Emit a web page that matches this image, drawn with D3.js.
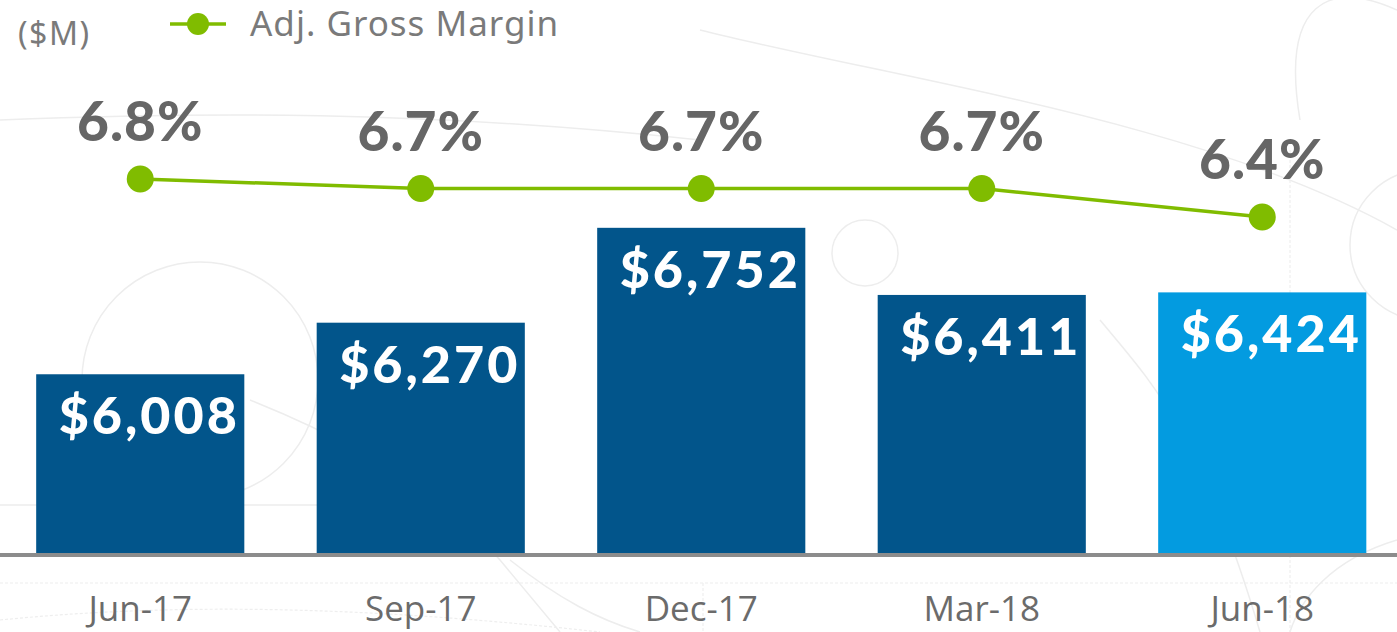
<!DOCTYPE html>
<html>
<head>
<meta charset="utf-8">
<script src="https://cdn.jsdelivr.net/npm/d3@7"></script>
<style>
  body { margin: 0; background: #fff; }
  svg { display: block; }
  .deco { fill: none; stroke: #ededed; stroke-width: 1.5; }
  .deco-dash { fill: none; stroke: #eeeeee; stroke-width: 1.2; stroke-dasharray: 3 2; }
  .x-label { font-family: "Open Sans", sans-serif; font-size: 35px; fill: #6b6b6b; }
  .pct { font-family: Lato, sans-serif; font-weight: 900; font-size: 55px; fill: #666; letter-spacing: 1px; }
  .val { font-family: Lato, sans-serif; font-weight: 900; font-size: 52px; fill: #fff; letter-spacing: 3px; }
  .legend { font-family: "Noto Sans", sans-serif; fill: #7a7a7a; }
</style>
</head>
<body>
<svg width="1397" height="632"></svg>
<script>
const quarters = ["Jun-17", "Sep-17", "Dec-17", "Mar-18", "Jun-18"];
const revenue  = [6008, 6270, 6752, 6411, 6424];
const margin   = [6.8, 6.7, 6.7, 6.7, 6.4];
const barColors = ["#02558b", "#02558b", "#02558b", "#02558b", "#039be0"];

window.onload = () => {
  const svg = d3.select("svg");
  const W = +svg.attr("width");

  const data = quarters.map((q, i) => ({ q, rev: revenue[i], gm: margin[i], color: barColors[i] }));

  const x = d3.scaleBand()
    .domain(quarters)
    .range([0, 1402.5])
    .paddingInner(0.258)
    .paddingOuter(0.129);

  const y = d3.scaleLinear()
    .domain([5100, 7000])
    .range([553, 179]);

  const yGm = d3.scaleLinear()
    .domain([6.0, 7.0])
    .range([255, 160]);

  drawBackground(svg);

  // bars
  svg.append("g")
    .selectAll("rect")
    .data(data)
    .join("rect")
      .attr("x", d => x(d.q))
      .attr("y", d => y(d.rev))
      .attr("width", x.bandwidth())
      .attr("height", d => y.range()[0] - y(d.rev))
      .attr("fill", d => d.color);

  svg.append("g")
    .selectAll("text")
    .data(data)
    .join("text")
      .attr("class", "val")
      .attr("text-anchor", "middle")
      .attr("x", d => x(d.q) + x.bandwidth() / 2 + 9)
      .attr("y", d => y(d.rev) + 60)
      .text(d => "$" + d3.format(",")(d.rev));

  // baseline
  svg.append("rect")
    .attr("x", 0)
    .attr("y", 553)
    .attr("width", W)
    .attr("height", 4)
    .attr("fill", "#8c8c8c");

  // x axis labels
  svg.append("g")
    .selectAll("text")
    .data(quarters)
    .join("text")
      .attr("class", "x-label")
      .attr("text-anchor", "middle")
      .attr("x", d => x(d) + x.bandwidth() / 2)
      .attr("y", 621)
      .text(d => d);

  // gross margin line
  const line = d3.line()
    .x(d => x(d.q) + x.bandwidth() / 2)
    .y(d => yGm(d.gm));

  svg.append("path")
    .datum(data)
    .attr("d", line)
    .attr("fill", "none")
    .attr("stroke", "#80bc00")
    .attr("stroke-width", 3.5);

  svg.append("g")
    .selectAll("circle")
    .data(data)
    .join("circle")
      .attr("cx", d => x(d.q) + x.bandwidth() / 2)
      .attr("cy", d => yGm(d.gm))
      .attr("r", 13.5)
      .attr("fill", "#80bc00");

  svg.append("g")
    .selectAll("text")
    .data(data)
    .join("text")
      .attr("class", "pct")
      .attr("text-anchor", "middle")
      .attr("x", d => x(d.q) + x.bandwidth() / 2)
      .attr("y", d => yGm(d.gm) - 38)
      .text(d => d.gm.toFixed(1) + "%");

  drawLegend(svg);
}

const drawLegend = (svg) => {
  const g = svg.append("g");

  g.append("text")
    .attr("class", "legend")
    .attr("x", 18)
    .attr("y", 45)
    .attr("font-size", 32)
    .attr("letter-spacing", 1.5)
    .attr("fill", "#8a8a8a")
    .text("($M)");

  g.append("line")
    .attr("x1", 170).attr("x2", 226)
    .attr("y1", 24).attr("y2", 24)
    .attr("stroke", "#80bc00")
    .attr("stroke-width", 3.5);

  g.append("circle")
    .attr("cx", 198)
    .attr("cy", 24)
    .attr("r", 11)
    .attr("fill", "#80bc00");

  g.append("text")
    .attr("class", "legend")
    .attr("x", 250)
    .attr("y", 36)
    .attr("font-size", 35)
    .attr("letter-spacing", 1)
    .text("Adj. Gross Margin");
}

// faint watermark shapes behind the chart
const drawBackground = (svg) => {
  const g = svg.append("g");

  g.append("circle").attr("class", "deco").attr("cx", 865).attr("cy", 253).attr("r", 33);
  g.append("circle").attr("class", "deco").attr("cx", 1425).attr("cy", 245).attr("r", 75);
  g.append("circle").attr("class", "deco").attr("cx", 200).attr("cy", 380).attr("r", 118);

  g.append("path").attr("class", "deco")
    .attr("d", "M0,120 C200,112 420,110 700,140");
  g.append("path").attr("class", "deco")
    .attr("d", "M700,30 C900,80 1200,120 1397,230");
  g.append("path").attr("class", "deco")
    .attr("d", "M1300,120 C1280,0 1330,-20 1397,10");
  g.append("path").attr("class", "deco")
    .attr("d", "M0,505 L317,505");
  g.append("path").attr("class", "deco")
    .attr("d", "M250,400 C300,420 420,470 500,560 L560,632");
  g.append("path").attr("class", "deco")
    .attr("d", "M510,560 C560,600 600,620 640,632");
  g.append("path").attr("class", "deco")
    .attr("d", "M1100,320 C1150,380 1200,430 1260,632");
  g.append("path").attr("class", "deco")
    .attr("d", "M1397,540 C1330,560 1300,600 1290,632");

  g.append("path").attr("class", "deco-dash")
    .attr("d", "M0,583 L1397,583");
  g.append("path").attr("class", "deco-dash")
    .attr("d", "M703,583 L703,632");
  g.append("path").attr("class", "deco-dash")
    .attr("d", "M1290,150 L1290,632");
  g.append("path").attr("class", "deco-dash")
    .attr("d", "M0,620 C200,600 400,610 600,632");
}
</script>
</body>
</html>
